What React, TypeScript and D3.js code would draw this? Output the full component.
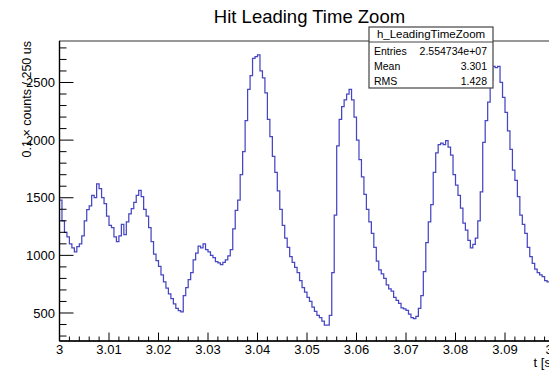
import React from "react";
import * as d3 from "d3";

const TITLE = "Hit Leading Time Zoom";
const Y_TITLE = "0.1 × counts / 250 us";
const X_TITLE = "t [s]";
const STATS_NAME = "h_LeadingTimeZoom";
const STATS_LABELS = ["Entries", "Mean", "RMS"];
const STATS_VALUES = ["2.554734e+07", "3.301", "1.428"];

const BIN_START = 3.0;
const BIN_WIDTH = 0.0005;
const COUNTS = [
  1480, 1300, 1200, 1160, 1100, 1065, 1030, 1075, 1100, 1170,
  1300, 1396, 1430, 1520, 1500, 1620, 1580, 1500, 1450, 1340,
  1260, 1240, 1160, 1120, 1170, 1270, 1180, 1290, 1360, 1405,
  1460, 1520, 1565, 1510, 1400, 1340, 1240, 1120, 1010, 955,
  905, 830, 770, 715, 665, 625, 580, 540, 520, 510,
  650, 720, 790, 850, 960, 1020, 1080, 1065, 1100, 1050,
  1030, 1000, 980, 945, 935, 920, 940, 960, 995, 1050,
  1230, 1390, 1480, 1700, 1900, 2170, 2440, 2560, 2710, 2725,
  2740, 2600, 2540, 2410, 2180, 2030, 1860, 1720, 1560, 1400,
  1260, 1150, 1070, 990, 940, 895, 850, 780, 720, 680,
  635, 600, 550, 515, 480, 460, 430, 395, 395, 480,
  850, 1350, 1950, 2180, 2290, 2350, 2400, 2440, 2350, 2200,
  2000, 1830, 1680, 1530, 1400, 1290, 1190, 1070, 950, 874,
  840, 800, 745, 710, 690, 635, 610, 583, 545, 535,
  522, 490, 460, 452, 470, 540, 650, 860, 1110, 1290,
  1440, 1720, 1890, 1960, 1974, 1960, 1995, 1940, 1870, 1700,
  1610, 1520, 1410, 1280, 1220, 1130, 1065, 1095, 1150, 1300,
  1550, 1980, 2170, 2330, 2520, 2640, 2630, 2640, 2500, 2370,
  2240, 2080, 1920, 1740, 1650, 1510, 1350, 1270, 1190, 1070,
  990, 930, 880, 850, 830, 815, 780, 770,
];

const X_DOMAIN = [3.0, 3.1];
const Y_DOMAIN = [257, 2860];
const X_MAJOR = [3.0, 3.01, 3.02, 3.03, 3.04, 3.05, 3.06, 3.07, 3.08, 3.09, 3.1];
const X_LABELS = ["3", "3.01", "3.02", "3.03", "3.04", "3.05", "3.06", "3.07", "3.08", "3.09", "3.1"];
const Y_MAJOR = [500, 1000, 1500, 2000, 2500];
const Y_LABELS = ["500", "1000", "1500", "2000", "2500"];

const FONT = "'Liberation Sans', Arial, Helvetica, sans-serif";

export default function App() {
  const W = 549, H = 370;
  const left = 59.5, right = 554.5, top = 41, bottom = 341;
  const x = d3.scaleLinear().domain(X_DOMAIN).range([left, right]);
  const y = d3.scaleLinear().domain(Y_DOMAIN).range([bottom, top]);

  const pts: [number, number][] = COUNTS.map((c, i) => [BIN_START + i * BIN_WIDTH, c]);
  pts.push([BIN_START + COUNTS.length * BIN_WIDTH, COUNTS[COUNTS.length - 1]]);
  const line = d3
    .line<[number, number]>()
    .x((d) => x(d[0]))
    .y((d) => y(d[1]))
    .curve(d3.curveStepAfter);
  const path = line(pts) || "";

  const xMinor: number[] = [];
  for (let k = 0; k <= 50; k++) {
    if (k % 5 !== 0) xMinor.push(3.0 + k * 0.002);
  }
  const yMinor: number[] = [];
  for (let v = 300; v <= 2800; v += 100) {
    if (v % 500 !== 0) yMinor.push(v);
  }

  const bx = 369, by = 27, bw = 124, bh = 61;

  return (
    <svg
      width={W}
      height={H}
      style={{ position: "absolute", left: 0, top: 0, background: "#fff" }}
      fontFamily={FONT}
    >
      <rect x={0} y={0} width={W} height={H} fill="#fff" />
      <defs>
        <clipPath id="frame">
          <rect x={left} y={top} width={right - left} height={bottom - top} />
        </clipPath>
      </defs>
      <text x={309.5} y={23} textAnchor="middle" fontSize={18.5} fill="#000">
        {TITLE}
      </text>

      {/* frame */}
      <rect x={left} y={top} width={right - left} height={bottom - top} fill="none" stroke="#333" strokeWidth={1} />

      {/* histogram */}
      <path d={path} fill="none" stroke="#4646c4" strokeWidth={1.25} clipPath="url(#frame)" />

      {/* y axis */}
      <line x1={left} x2={left} y1={top} y2={bottom} stroke="#000" strokeWidth={1.4} />
      {Y_MAJOR.map((v) => (
        <line key={"ym" + v} x1={left} x2={left + 14} y1={y(v)} y2={y(v)} stroke="#000" strokeWidth={1} />
      ))}
      {yMinor.map((v) => (
        <line key={"yn" + v} x1={left} x2={left + 7} y1={y(v)} y2={y(v)} stroke="#000" strokeWidth={1} />
      ))}
      {Y_MAJOR.map((v, i) => (
        <text key={"yl" + v} x={55} y={y(v)} dy="0.36em" textAnchor="end" fontSize={13} fill="#000">
          {Y_LABELS[i]}
        </text>
      ))}
      <text
        transform={`translate(31, ${top}) rotate(-90)`}
        textAnchor="end"
        fontSize={12.5}
        fill="#000"
      >
        {Y_TITLE}
      </text>

      {/* x axis */}
      <line x1={left} x2={right} y1={bottom} y2={bottom} stroke="#000" strokeWidth={1.4} />
      {X_MAJOR.map((v) => (
        <line key={"xm" + v} x1={x(v)} x2={x(v)} y1={bottom} y2={bottom - 8.5} stroke="#000" strokeWidth={1} />
      ))}
      {xMinor.map((v, i) => (
        <line key={"xn" + i} x1={x(v)} x2={x(v)} y1={bottom} y2={bottom - 4.5} stroke="#000" strokeWidth={1} />
      ))}
      {X_MAJOR.map((v, i) => (
        <text key={"xl" + i} x={x(v)} y={353.5} textAnchor="middle" fontSize={13} fill="#000">
          {X_LABELS[i]}
        </text>
      ))}
      <text x={right} y={366.5} textAnchor="end" fontSize={13} fill="#000">
        {X_TITLE}
      </text>

      {/* stats box */}
      <rect x={bx} y={by} width={bw} height={bh} fill="#fff" stroke="#444" strokeWidth={1.2} />
      <line x1={bx} x2={bx + bw} y1={42} y2={42} stroke="#444" strokeWidth={1} />
      <text x={bx + bw / 2} y={37.5} textAnchor="middle" fontSize={11.5} fill="#000">
        {STATS_NAME}
      </text>
      {STATS_LABELS.map((lab, i) => (
        <g key={lab}>
          <text x={374} y={54.5 + i * 15} fontSize={10.5} fill="#000">
            {lab}
          </text>
          <text x={487} y={54.5 + i * 15} textAnchor="end" fontSize={10.5} fill="#000">
            {STATS_VALUES[i]}
          </text>
        </g>
      ))}
    </svg>
  );
}
